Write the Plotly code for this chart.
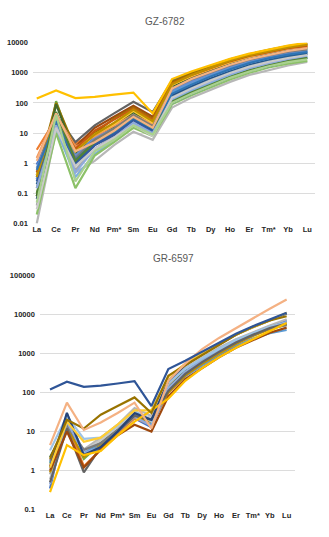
import plotly.graph_objects as go

ELEMENTS = ["La", "Ce", "Pr", "Nd", "Pm*", "Sm", "Eu", "Gd", "Tb", "Dy", "Ho", "Er", "Tm*", "Yb", "Lu"]

TITLE_TOP = "GZ-6782"
TITLE_BOTTOM = "GR-6597"

TOP_TICKS = [0.01, 0.1, 1, 10, 100, 1000, 10000]
BOTTOM_TICKS = [0.1, 1, 10, 100, 1000, 10000, 100000]

# ---- GZ-6782 series (chondrite-normalised) ----
GZ_01 = [0.9, 25, 1.5, 6, 12, 35, 15, 250, 500, 900, 1500, 2300, 3200, 4200, 5200]
GZ_02 = [2.8, 30, 4.5, 10, 20, 45, 20, 350, 750, 1300, 2200, 3400, 4800, 6300, 7500]
GZ_03 = [0.04, 20, 0.6, 3, 8, 25, 12, 200, 450, 800, 1400, 2200, 3100, 4100, 5000]
GZ_04 = [0.5, 22, 1.2, 5, 10, 30, 13, 230, 480, 850, 1450, 2250, 3150, 4150, 5100]
GZ_05 = [0.08, 115, 1.8, 6, 14, 45, 18, 300, 600, 1050, 1800, 2800, 3900, 5200, 6200]
GZ_06 = [0.065, 18, 1.0, 4, 9, 28, 12, 180, 350, 650, 1100, 1800, 2600, 3500, 4400]
GZ_07 = [0.3, 35, 3.5, 15, 35, 80, 35, 480, 900, 1500, 2500, 3700, 5200, 6800, 8200]
GZ_08 = [0.35, 40, 5, 18, 45, 110, 50, 550, 1000, 1700, 2800, 4100, 5800, 7700, 9300]
GZ_09 = [0.4, 100, 3, 10, 30, 70, 30, 500, 950, 1600, 2700, 4000, 5600, 7400, 9000]
GZ_10 = [0.2, 20, 1.0, 4.5, 10, 30, 14, 160, 320, 600, 1050, 1700, 2500, 3400, 4300]
GZ_11 = [0.08, 90, 2, 7, 16, 50, 20, 350, 650, 1100, 1900, 2900, 4100, 5500, 7000]
GZ_12 = [0.7, 28, 1.8, 7, 14, 40, 16, 270, 520, 950, 1600, 2500, 3500, 4600, 5600]
GZ_13 = [1.5, 40, 3.5, 8, 18, 40, 20, 400, 800, 1400, 2300, 3500, 4900, 6400, 7200]
GZ_14 = [0.01, 12, 0.5, 1.2, 4, 11, 6, 70, 150, 280, 500, 850, 1250, 1750, 2300]
GZ_15 = [0.4, 30, 2.5, 9, 20, 55, 22, 400, 800, 1400, 2300, 3500, 4900, 6500, 8000]
GZ_16 = [0.3, 15, 0.35, 2, 6, 20, 10, 120, 250, 450, 800, 1300, 1900, 2600, 3300]
GZ_17 = [0.02, 10, 0.15, 1.8, 5, 15, 8, 90, 180, 330, 600, 1000, 1500, 2000, 2500]
GZ_18 = [0.25, 22, 0.9, 4, 9, 27, 11, 100, 200, 380, 700, 1150, 1700, 2400, 3100]
GZ_19 = [0.5, 35, 3, 12, 28, 65, 28, 450, 850, 1450, 2400, 3600, 5000, 6600, 7800]
GZ_20 = [0.15, 25, 1.5, 6, 14, 40, 17, 300, 600, 1050, 1750, 2700, 3800, 5000, 6000]
GZ_21 = [0.35, 45, 2.5, 9, 22, 60, 25, 420, 850, 1500, 2500, 3800, 5300, 7000, 8500]
GZ_22 = [0.6, 25, 1.3, 5, 11, 32, 14, 200, 400, 750, 1300, 2100, 3000, 4000, 4900]
GZ_23 = [0.1, 50, 1.2, 5, 12, 35, 15, 110, 220, 400, 720, 1200, 1800, 2500, 3200]
GZ_24 = [0.15, 18, 0.5, 3, 7, 22, 10, 140, 280, 520, 900, 1450, 2100, 2900, 3700]
GZ_25 = [1.2, 45, 2.5, 5, 12, 35, 15, 300, 620, 1100, 1850, 2850, 4000, 5300, 6500]
GZ_26 = [0.03, 15, 0.8, 3, 7, 18, 8, 150, 300, 560, 980, 1600, 2300, 3100, 3900]
GZ_27 = [0.05, 40, 0.25, 2.5, 6, 18, 9, 100, 200, 380, 680, 1100, 1650, 2250, 2800]
GZ_28 = [140, 260, 145, 160, 190, 220, 45, 620, 1100, 1800, 2900, 4300, 6000, 8000, 10000]

# ---- GR-6597 series ----
GR_01 = [1.5, 14, 2.0, 5, 11, 25, 18, 120, 320, 620, 1150, 1950, 3000, 4500, 6000]
GR_02 = [0.8, 15, 3, 6, 13, 30, 22, 150, 380, 720, 1300, 2200, 3300, 4800, 6500]
GR_03 = [0.35, 28, 2.7, 3.5, 9, 22, 13, 130, 350, 680, 1250, 2150, 3300, 5000, 7000]
GR_04 = [1.3, 16, 1.3, 3.5, 9, 22, 15, 100, 280, 550, 1050, 1800, 2900, 4400, 6000]
GR_05 = [2.2, 15, 3.3, 5, 11, 26, 18, 140, 360, 700, 1250, 2100, 3200, 4700, 5800]
GR_06 = [1.6, 20, 3, 4.5, 11, 27, 15, 110, 260, 500, 900, 1550, 2400, 3300, 4000]
GR_07 = [0.6, 14, 3.5, 7, 15, 40, 25, 160, 420, 780, 1400, 2300, 3500, 5200, 7500]
GR_08 = [1.1, 12, 3.2, 6, 13, 32, 22, 130, 330, 650, 1200, 2000, 3100, 4600, 6200]
GR_09 = [0.9, 13, 2.2, 4.5, 10, 24, 18, 100, 270, 540, 1000, 1750, 2800, 4200, 5500]
GR_10 = [1.8, 14, 3.4, 5, 11, 28, 20, 120, 300, 600, 1100, 1900, 2950, 4400, 5300]
GR_11 = [0.45, 18, 2.8, 4, 10, 24, 14, 130, 340, 660, 1200, 2050, 3200, 4700, 6400]
GR_12 = [3.3, 25, 6.5, 7, 14, 35, 18, 180, 400, 750, 1300, 2200, 3300, 4800, 6000]
GR_13 = [0.5, 12, 0.9, 4, 10, 25, 20, 110, 300, 600, 1100, 1900, 3000, 4500, 5800]
GR_14 = [1.0, 10, 1.2, 3.5, 8, 15, 10, 80, 220, 420, 800, 1400, 2200, 3400, 4600]
GR_15 = [1.2, 30, 2.5, 4, 10, 30, 20, 200, 500, 950, 1700, 3000, 4700, 7000, 10500]
GR_16 = [1.2, 18, 5.5, 7, 15, 35, 35, 250, 550, 1000, 1800, 3000, 4700, 7000, 11000]
GR_17 = [0.28, 4.5, 2.5, 3.2, 8, 18, 35, 70, 200, 420, 800, 1400, 2300, 3800, 6000]
GR_18 = [2.0, 20, 12, 27, 45, 75, 30, 270, 500, 900, 1700, 3000, 4800, 7000, 9000]
GR_19 = [4.5, 55, 11, 17, 30, 55, 12, 200, 550, 1300, 2500, 4500, 8000, 14000, 24000]
GR_20 = [120, 190, 140, 150, 170, 195, 45, 400, 650, 1100, 1800, 3200, 5000, 7500, 11000]

GZ_SERIES = [GZ_01, GZ_02, GZ_03, GZ_04, GZ_05, GZ_06, GZ_07, GZ_08, GZ_09, GZ_10,
             GZ_11, GZ_12, GZ_13, GZ_14, GZ_15, GZ_16, GZ_17, GZ_18, GZ_19, GZ_20,
             GZ_21, GZ_22, GZ_23, GZ_24, GZ_25, GZ_26, GZ_27, GZ_28]
GZ_COLORS = ["#4472C4", "#ED7D31", "#A5A5A5", "#5B9BD5", "#70AD47", "#264478", "#9E480E",
             "#636363", "#997300", "#255E91", "#43682B", "#698ED0", "#F1975A", "#B7B7B7",
             "#FFCD33", "#7CAFDD", "#8CC168", "#335AA1", "#C65911", "#7B7B7B", "#BF8F00",
             "#2F75B5", "#548235", "#8FAADC", "#F4B183", "#C9C9C9", "#A9D18E", "#FFC000"]

GR_SERIES = [GR_01, GR_02, GR_03, GR_04, GR_05, GR_06, GR_07, GR_08, GR_09, GR_10,
             GR_11, GR_12, GR_13, GR_14, GR_15, GR_16, GR_17, GR_18, GR_19, GR_20]
GR_COLORS = ["#70AD47", "#A5A5A5", "#4472C4", "#ED7D31", "#43682B", "#5B9BD5", "#B7B7B7",
             "#C9C9C9", "#BF8F00", "#7B7B7B", "#8FAADC", "#9DC3E6", "#636363", "#9E480E",
             "#264478", "#FFCD33", "#FFC000", "#997300", "#F4B183", "#2F5597"]

fig = go.Figure()

for vals, col in zip(GZ_SERIES, GZ_COLORS):
    fig.add_trace(go.Scatter(x=ELEMENTS, y=vals, mode="lines", xaxis="x", yaxis="y",
                             line=dict(color=col, width=2.2), showlegend=False, hoverinfo="skip"))
for vals, col in zip(GR_SERIES, GR_COLORS):
    fig.add_trace(go.Scatter(x=ELEMENTS, y=vals, mode="lines", xaxis="x2", yaxis="y2",
                             line=dict(color=col, width=2.2), showlegend=False, hoverinfo="skip"))

W, H = 329, 537
tick_font = dict(family="Liberation Sans", size=7.5, color="#262626", weight="bold")
grid = "#DCDCDC"

def fx(px):
    return px / W

def fy(py):
    return 1 - py / H

fig.update_layout(
    width=W, height=H,
    margin=dict(l=0, r=0, t=0, b=0),
    paper_bgcolor="white", plot_bgcolor="white",
    xaxis=dict(domain=[fx(32), fx(315)], anchor="y", type="category",
               categoryorder="array", categoryarray=ELEMENTS,
               range=[-0.2, 14.4], showgrid=False, showline=False, ticks="",
               tickfont=tick_font, tickangle=0),
    yaxis=dict(domain=[fy(223.3), fy(39.3)], anchor="x", type="log",
               range=[-2, 4], tickvals=TOP_TICKS,
               ticktext=["0.01", "0.1", "1", "10", "100", "1000", "10000"],
               showgrid=True, gridcolor=grid, gridwidth=1, zeroline=False,
               showline=False, ticks="", tickfont=tick_font, ticklabelstandoff=4),
    xaxis2=dict(domain=[fx(39), fx(295)], anchor="y2", type="category",
                categoryorder="array", categoryarray=ELEMENTS,
                range=[-0.6, 14.5], showgrid=False, showline=False, ticks="",
                tickfont=tick_font, tickangle=0),
    yaxis2=dict(domain=[fy(514.3), fy(276)], anchor="x2", type="log",
                range=[-1, 5], tickvals=BOTTOM_TICKS,
                ticktext=["0.1", "1", "10", "100", "1000", "10000", "100000"],
                showgrid=True, gridcolor=grid, gridwidth=1, zeroline=False,
                showline=False, ticks="", tickfont=tick_font, ticklabelstandoff=4),
    annotations=[
        dict(text=TITLE_TOP, x=fx(165), y=fy(17.5), xref="paper", yref="paper",
             xanchor="center", yanchor="middle", showarrow=False,
             font=dict(family="Liberation Sans", size=10, color="#595959")),
        dict(text=TITLE_BOTTOM, x=fx(173), y=fy(259), xref="paper", yref="paper",
             xanchor="center", yanchor="middle", showarrow=False,
             font=dict(family="Liberation Sans", size=10, color="#595959")),
    ],
)

fig.write_html("out.html", config={"displayModeBar": False},
               post_script="document.body.style.margin='0';document.body.style.overflow='hidden';")
